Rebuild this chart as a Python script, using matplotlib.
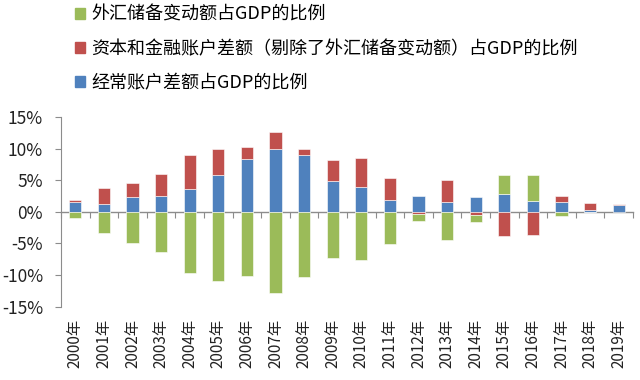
import matplotlib
matplotlib.use("Agg")
import matplotlib.pyplot as plt
import matplotlib.patches as mpatches
import numpy as np

plt.rcParams['font.family'] = ['Noto Sans CJK SC', 'DejaVu Sans']

years = [f"{y}年" for y in range(2000, 2020)]
current_account = [1.6, 1.25, 2.4, 2.55, 3.55, 5.75, 8.4, 9.9, 9.05, 4.8,
                   3.9, 1.8, 2.5, 1.5, 2.3, 2.75, 1.75, 1.6, 0.2, 1.0]
capital_financial = [0.3, 2.55, 2.1, 3.35, 5.5, 4.2, 1.85, 2.65, 0.85, 3.4,
                     4.65, 3.5, -0.3, 3.6, -0.45, -3.9, -3.7, 0.9, 1.2, 0.3]
reserve_change = [-0.95, -3.4, -5.0, -6.3, -9.7, -11.0, -10.25, -12.9, -10.3, -7.4,
                  -7.65, -5.1, -1.2, -4.45, -1.15, 3.1, 4.0, -0.75, -0.1, 0.0]

labels = ["经常账户差额占GDP的比例",
          "资本和金融账户差额（剔除了外汇储备变动额）占GDP的比例",
          "外汇储备变动额占GDP的比例"]
colors = ["#4F81BD", "#C0504D", "#9BBB59"]
series = [current_account, capital_financial, reserve_change]

fig = plt.figure(figsize=(6.4, 3.8), dpi=100)
ax = fig.add_axes([61/640, 1-306.5/380, 572/640, 189.5/380])

x = np.arange(len(years))
pos_bottom = np.zeros(len(years))
neg_bottom = np.zeros(len(years))
for vals, col in zip(series, colors):
    v = np.array(vals, dtype=float)
    bottom = np.where(v >= 0, pos_bottom, neg_bottom)
    ax.bar(x, v, width=0.42, bottom=bottom, color=col, edgecolor='white', linewidth=0.4, zorder=3)
    pos_bottom = pos_bottom + np.where(v > 0, v, 0)
    neg_bottom = neg_bottom + np.where(v < 0, v, 0)

axis_col = '#8C8C8C'
ax.set_xlim(-0.5, len(years) - 0.5)
ax.set_ylim(-15, 15)
ax.set_yticks([-15, -10, -5, 0, 5, 10, 15])
ax.set_yticklabels([f"{t}%" for t in [-15, -10, -5, 0, 5, 10, 15]], fontsize=12.5, color='#222222')
ax.tick_params(axis='y', length=4, color=axis_col, width=0.8, pad=9)

ax.set_xticks(x)
ax.set_xticklabels(years, rotation=90, fontsize=11, color='#222222')
ax.tick_params(axis='x', length=0, pad=9)

for s in ['top', 'right', 'bottom']:
    ax.spines[s].set_visible(False)
ax.spines['left'].set_color(axis_col)
ax.spines['left'].set_linewidth(0.8)

sec = ax.secondary_xaxis(0, transform=ax.transData)
sec.set_xticks(np.arange(-0.5, len(years), 1.0))
sec.set_xticklabels([])
sec.tick_params(axis='x', length=4, color=axis_col, width=0.8, direction='out')
sec.spines['bottom'].set_color(axis_col)
sec.spines['bottom'].set_linewidth(1.0)

handles = [mpatches.Patch(color=c, label=l) for c, l in zip(colors, labels)][::-1]
fig.legend(handles=handles, loc='upper left', bbox_to_anchor=(75/640, 1-6/380),
           frameon=False, fontsize=13, handlelength=0.55, handleheight=0.55,
           handletextpad=0.35, labelspacing=0.88, borderpad=0, borderaxespad=0)

fig.savefig("out.png", dpi=100)
